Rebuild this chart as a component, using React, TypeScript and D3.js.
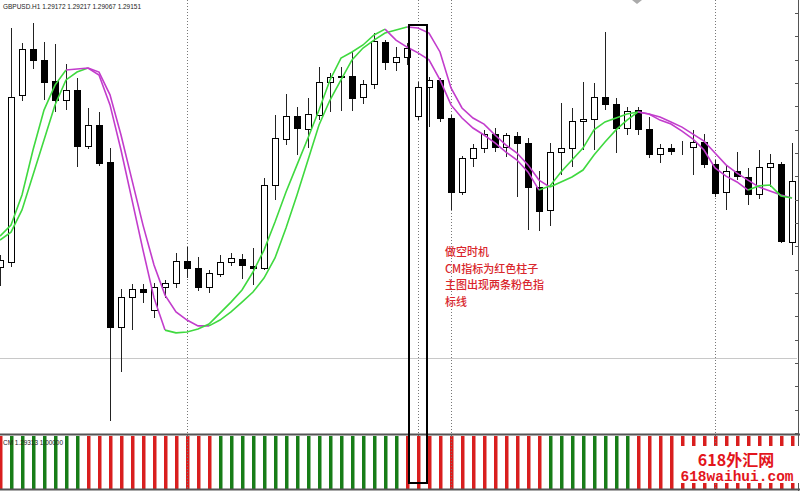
import React from 'react';
import * as d3 from 'd3';

// GBPUSD H1 candles, one per bar index
const opens = [1.28811,1.28833,1.29549,1.29746,1.29699,1.29609,1.29527,1.29570,1.29330,1.29420,
  1.29261,1.28554,1.28683,1.28717,1.28627,1.28726,1.28743,1.28837,1.28807,1.28726,
  1.28781,1.28833,1.28846,1.28816,1.28807,1.29163,1.29360,1.29459,1.29403,1.29463,
  1.29604,1.29630,1.29630,1.29540,1.29596,1.29776,1.29690,1.29711,1.29459,1.29583,
  1.29613,1.29450,1.29133,1.29279,1.29321,1.29381,1.29326,1.29373,1.29343,1.29154,
  1.29056,1.29304,1.29321,1.29437,1.29446,1.29540,1.29510,1.29407,1.29484,1.29403,
  1.29296,1.29321,1.29330,1.29326,1.29347,1.29253,1.29133,1.29223,1.29197,1.29124,
  1.29240,1.29253,1.28919];
const highs = [1.28863,1.29836,1.29771,1.29857,1.29776,1.29767,1.29681,1.29621,1.29493,1.29476,
  1.29321,1.28717,1.28739,1.28739,1.28743,1.28756,1.28871,1.28897,1.28854,1.28799,
  1.28863,1.28871,1.28867,1.28893,1.29193,1.29463,1.29553,1.29497,1.29536,1.29669,
  1.29643,1.29669,1.29733,1.29613,1.29814,1.29784,1.29754,1.29771,1.29604,1.29626,
  1.29621,1.29463,1.29287,1.29339,1.29399,1.29407,1.29386,1.29390,1.29364,1.29223,
  1.29343,1.29514,1.29493,1.29604,1.29600,1.29819,1.29536,1.29497,1.29497,1.29454,
  1.29339,1.29339,1.29351,1.29399,1.29381,1.29270,1.29249,1.29304,1.29236,1.29313,
  1.29296,1.29261,1.29343];
const lows = [1.28730,1.28811,1.29523,1.29660,1.29527,1.29476,1.29484,1.29240,1.29317,1.29244,
  1.28151,1.28361,1.28541,1.28657,1.28593,1.28679,1.28721,1.28764,1.28709,1.28700,
  1.28769,1.28816,1.28760,1.28734,1.28799,1.29099,1.29334,1.29291,1.29321,1.29441,
  1.29476,1.29480,1.29480,1.29510,1.29574,1.29656,1.29651,1.29677,1.29441,1.29411,
  1.29433,1.29056,1.29120,1.29240,1.29300,1.29304,1.29283,1.29111,1.28970,1.28966,
  1.28987,1.29206,1.29240,1.29313,1.29313,1.29484,1.29300,1.29377,1.29377,1.29279,
  1.29257,1.29291,1.29291,1.29206,1.29236,1.29111,1.29056,1.29184,1.29077,1.29103,
  1.29154,1.28914,1.28863];
const closes = [1.28841,1.29540,1.29746,1.29699,1.29604,1.29527,1.29570,1.29330,1.29420,1.29257,
  1.28554,1.28683,1.28717,1.28704,1.28726,1.28743,1.28837,1.28807,1.28726,1.28786,
  1.28833,1.28850,1.28820,1.28807,1.29163,1.29364,1.29459,1.29407,1.29467,1.29604,
  1.29626,1.29626,1.29536,1.29596,1.29780,1.29690,1.29711,1.29750,1.29583,1.29613,
  1.29450,1.29133,1.29279,1.29321,1.29381,1.29326,1.29377,1.29343,1.29154,1.29051,
  1.29304,1.29321,1.29437,1.29446,1.29540,1.29510,1.29407,1.29480,1.29403,1.29296,
  1.29321,1.29309,1.29329,1.29347,1.29253,1.29129,1.29223,1.29201,1.29124,1.29240,
  1.29257,1.28923,1.29180];

// two moving averages
const fastMa = [1.28944,1.28991,1.29120,1.29313,1.29484,1.29591,1.29656,1.29660,1.29664,1.29634,
  1.29506,1.29313,1.29099,1.28884,1.28679,1.28541,1.28529,1.28533,1.28546,1.28567,
  1.28614,1.28661,1.28713,1.28790,1.28884,1.29004,1.29133,1.29249,1.29364,1.29484,
  1.29613,1.29707,1.29733,1.29763,1.29806,1.29831,1.29784,1.29754,1.29729,1.29699,
  1.29613,1.29506,1.29450,1.29407,1.29377,1.29343,1.29304,1.29270,1.29219,1.29141,
  1.29159,1.29219,1.29270,1.29321,1.29399,1.29433,1.29450,1.29467,1.29476,1.29467,
  1.29441,1.29424,1.29394,1.29360,1.29313,1.29236,1.29201,1.29176,1.29141,1.29159,
  1.29163,1.29116,1.29107];
const slowMa = [1.28927,1.28961,1.29056,1.29206,1.29356,1.29506,1.29613,1.29647,1.29664,1.29647,
  1.29549,1.29377,1.29184,1.28991,1.28820,1.28691,1.28619,1.28584,1.28559,1.28559,
  1.28584,1.28619,1.28661,1.28704,1.28764,1.28850,1.28979,1.29120,1.29270,1.29420,
  1.29527,1.29613,1.29699,1.29750,1.29784,1.29814,1.29827,1.29840,1.29836,1.29814,
  1.29733,1.29579,1.29493,1.29450,1.29424,1.29377,1.29334,1.29300,1.29249,1.29184,
  1.29154,1.29176,1.29197,1.29227,1.29291,1.29347,1.29399,1.29441,1.29476,1.29467,
  1.29454,1.29433,1.29411,1.29381,1.29351,1.29300,1.29249,1.29214,1.29184,1.29154,
  1.29137,1.29120,1.29107];
// colour runs (bar counts): u = green, d = magenta; a segment takes the colour of its end bar
const fastRuns: [string, number][] = [['u', 7], ['d', 9], ['u', 20], ['d', 14], ['u', 9], ['d', 10], ['u', 4]];
const slowRuns: [string, number][] = [['u', 9], ['d', 11], ['u', 18], ['d', 13], ['u', 8], ['d', 14]];

// CM histogram runs: 1 = green, -1 = red
const cmRuns: [number, number][] = [[-1, 1], [1, 7], [-1, 12], [1, 17], [-1, 13], [1, 8], [-1, 15]];

const daySeparators = [17, 41, 65];
const markedBar = 38;
const priceLine = 1.28421;
const noteLines = ['做空时机', 'CM指标为红色柱子', '主图出现两条粉色指', '标线'];

const W = 800;
const H = 491;
const mainBottom = 434;
const subTop = 436;
const subBottom = 489;

const GREEN = '#3fd93f';
const MAGENTA = '#c23ccc';

const expand = <T,>(runs: [T, number][]) => runs.flatMap(([v, n]) => Array(n).fill(v) as T[]);

export default function App() {
  const x = d3.scaleLinear().domain([0, 72]).range([0, 792]);
  const y = d3.scaleLinear().domain([1.2990, 1.2840]).range([13, 363]);
  const ticks = d3.range(0, 19).map(k => 1.2990 - k * 0.001).filter(v => y(v) < mainBottom);
  const cmSignal = expand(cmRuns);

  const segs = (vals: number[], trend: string[]) => {
    const out: { color: string; d: string }[] = [];
    const line = d3.line<number>().x(i => x(i)).y(i => y(vals[i]));
    let start = 0;
    for (let i = 2; i <= vals.length; i++) {
      if (i === vals.length || trend[i] !== trend[i - 1]) {
        out.push({ color: trend[i - 1] === 'u' ? GREEN : MAGENTA, d: line(d3.range(start, i)) || '' });
        start = i - 1;
      }
    }
    return out;
  };

  const fastSegs = segs(fastMa, expand(fastRuns));
  const slowSegs = segs(slowMa, expand(slowRuns));

  return (
    <svg width={W} height={H} style={{ position: 'absolute', left: 0, top: 0, background: '#fff' }}
      fontFamily="'Liberation Sans', Arial, sans-serif">
      <rect width={W} height={H} fill="#fff" />
      {/* horizontal price line */}
      <line x1={0} x2={797} y1={Math.round(y(priceLine)) + 0.5} y2={Math.round(y(priceLine)) + 0.5} stroke="#c8c8c8" />
      {/* day separators + marked bar line */}
      {[...daySeparators, markedBar].map(i => (
        <line key={i} x1={x(i) + 0.5} x2={x(i) + 0.5} y1={0} y2={H} stroke="#777" strokeDasharray="1,2" />
      ))}

      {/* candles */}
      {opens.map((o, i) => {
        const cx = Math.round(x(i));
        const c = closes[i];
        const top = Math.round(y(Math.max(o, c)));
        const bot = Math.round(y(Math.min(o, c)));
        const up = c >= o;
        return (
          <g key={i}>
            <line x1={cx + 0.5} x2={cx + 0.5} y1={Math.round(y(highs[i]))} y2={Math.round(y(lows[i]))} stroke="#222" />
            <rect x={cx - 2.5} y={top + 0.5} width={6} height={Math.max(bot - top, 0)}
              fill={up ? '#fff' : '#000'} stroke="#000" />
          </g>
        );
      })}

      {/* moving averages */}
      {slowSegs.map((s, k) => <path key={'s' + k} d={s.d} fill="none" stroke={s.color} strokeWidth={1.6} />)}
      {fastSegs.map((s, k) => <path key={'f' + k} d={s.d} fill="none" stroke={s.color} strokeWidth={1.6} />)}

      {/* right price axis */}
      <line x1={798.5} x2={798.5} y1={0} y2={H} stroke="#555" />
      {ticks.map(v => (
        <line key={v} x1={795} x2={799} y1={Math.round(y(v)) + 0.5} y2={Math.round(y(v)) + 0.5} stroke="#555" />
      ))}
      <polygon points="632,0 642,0 637,4" fill="#aaa" />

      <text x={3} y={9} fontSize={8} fill="#222" textLength={138} lengthAdjust="spacingAndGlyphs">
        GBPUSD.H1  1.29172 1.29217 1.29067 1.29151
      </text>

      {/* annotation */}
      {noteLines.map((t, k) => (
        <text key={k} x={445} y={256 + k * 16.5} fontSize={11} fill="#d9262c" fontWeight={500}
          fontFamily="'Noto Sans CJK SC', sans-serif">{t}</text>
      ))}

      {/* sub window */}
      {cmSignal.map((s, i) => (
        <rect key={i} x={Math.round(x(i)) - 1} y={subTop} width={3.5} height={subBottom - subTop}
          fill={s > 0 ? '#177d17' : '#d91e1e'} />
      ))}
      {daySeparators.map(i => (
        <line key={'sd' + i} x1={x(i) + 0.5} x2={x(i) + 0.5} y1={subTop} y2={subBottom} stroke="#777" strokeDasharray="1,2" />
      ))}
      <line x1={0} x2={W} y1={mainBottom + 0.5} y2={mainBottom + 0.5} stroke="#555" strokeWidth={2} />
      <line x1={0} x2={W} y1={subBottom + 0.5} y2={subBottom + 0.5} stroke="#555" strokeWidth={2} />
      <text x={3} y={445} fontSize={8} fill="#222" textLength={60} lengthAdjust="spacingAndGlyphs">CM 1.29313 1.00000</text>

      {/* marked bar box */}
      <rect x={x(markedBar) - 9} y={25} width={18} height={458} fill="none" stroke="#000" strokeWidth={2} />

      {/* watermark */}
      <rect x={677} y={446} width={123} height={37} fill="#fff" />
      <text x={736} y={466} fontSize={16} fill="#e3151c" textAnchor="middle" fontWeight="bold"
        fontFamily="'Noto Sans CJK SC', sans-serif">618外汇网</text>
      <text x={737} y={481} fontSize={14.5} fill="#e3151c" textAnchor="middle" fontWeight="bold"
        fontFamily="'Liberation Mono', 'DejaVu Sans Mono', monospace">618waihui.com</text>
    </svg>
  );
}
